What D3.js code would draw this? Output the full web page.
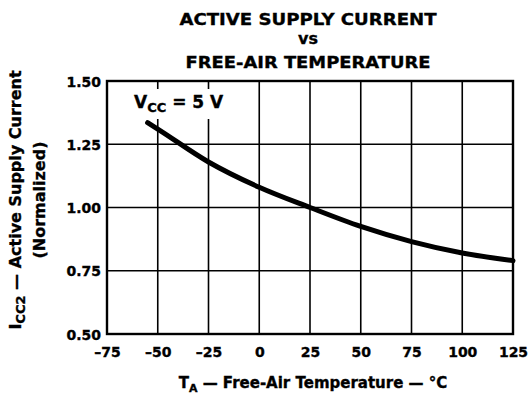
<!DOCTYPE html>
<html>
<head>
<meta charset="utf-8">
<script src="https://cdn.jsdelivr.net/npm/d3@7"></script>
<style>
  html, body { margin: 0; padding: 0; background: #fff; }
  svg { display: block; }
  text { font-family: "DejaVu Sans", sans-serif; font-weight: bold; fill: #000; stroke: #000; stroke-width: 0.35px; }
</style>
</head>
<body>
<svg id="chart" width="530" height="408"></svg>
<script>
// ---- data ----
const temperatures = [-55, -50, -25, 0, 25, 50, 75, 100, 125];
const currentNorm = [1.335, 1.31, 1.18, 1.08, 1.00, 0.925, 0.865, 0.82, 0.79];
const xTicks = [-75, -50, -25, 0, 25, 50, 75, 100, 125];
const yTicks = [0.50, 0.75, 1.00, 1.25, 1.50];
const titleLines = ["ACTIVE SUPPLY CURRENT", "vs", "FREE-AIR TEMPERATURE"];

const svg = d3.select("#chart");
const L = 107, R = 513, T = 81, B = 334;

const x = d3.scaleLinear().domain([-75, 125]).range([L, R]);
const y = d3.scaleLinear().domain([0.5, 1.5]).range([B, T]);

// title
const tY = [25, 44, 68];
const tLen = [257, null, 245];
titleLines.forEach((s, i) => {
  const t = svg.append("text").attr("x", 308).attr("y", tY[i])
    .attr("text-anchor", "middle").style("font-size", "16px").text(s);
  if (tLen[i]) t.attr("textLength", tLen[i]).attr("lengthAdjust", "spacingAndGlyphs");
});

// grid
const grid = svg.append("g");
grid.selectAll("line.vx").data(xTicks.slice(1, -1)).join("line")
  .attr("x1", d => x(d)).attr("x2", d => x(d)).attr("y1", T).attr("y2", B)
  .attr("stroke", "#000").attr("stroke-width", 1.6);
grid.selectAll("line.hy").data(yTicks.slice(1, -1)).join("line")
  .attr("x1", L).attr("x2", R).attr("y1", d => y(d)).attr("y2", d => y(d))
  .attr("stroke", "#000").attr("stroke-width", 1.6);

// label background (breaks grid lines)
svg.append("rect").attr("x", 130).attr("y", 89).attr("width", 102).attr("height", 30).attr("fill", "#fff");

// frame
svg.append("rect").attr("x", L).attr("y", T).attr("width", R - L).attr("height", B - T)
  .attr("fill", "none").attr("stroke", "#000").attr("stroke-width", 2.4);

// x axis labels
const xAxis = d3.axisBottom(x).tickValues(xTicks).tickSize(0).tickPadding(0)
  .tickFormat(d => d < 0 ? "\u2013" + Math.abs(d) : String(d));
const gx = svg.append("g").attr("transform", `translate(0,${B})`).call(xAxis);
gx.select(".domain").remove();
gx.selectAll("text").attr("y", 23).attr("dy", null)
  .style("font-size", "14px").style("font-family", "'DejaVu Sans', sans-serif").style("font-weight", "bold")
  .attr("fill", "#000");

// y axis labels
const yAxis = d3.axisLeft(y).tickValues(yTicks).tickSize(0).tickPadding(0)
  .tickFormat(d3.format(".2f"));
const gy = svg.append("g").attr("transform", `translate(${L - 6},0)`).call(yAxis);
gy.select(".domain").remove();
gy.selectAll("text").attr("x", 0).attr("dy", "0.36em")
  .style("font-size", "14px").style("font-family", "'DejaVu Sans', sans-serif").style("font-weight", "bold")
  .attr("fill", "#000");

// curve
const line = d3.line().x((d, i) => x(temperatures[i])).y(d => y(d)).curve(d3.curveMonotoneX);
svg.append("path").datum(currentNorm).attr("d", line)
  .attr("fill", "none").attr("stroke", "#000").attr("stroke-width", 5).attr("stroke-linecap", "round");

// Vcc label
const vl = svg.append("text").attr("x", 134).attr("y", 108).style("font-size", "17px");
vl.append("tspan").text("V");
vl.append("tspan").attr("dy", 4).style("font-size", "13px").text("CC");
vl.append("tspan").attr("dy", -4).text(" = 5 V");

// x axis title
const xt = svg.append("text").attr("x", 313).attr("y", 388).attr("text-anchor", "middle").style("font-size", "15px");
xt.append("tspan").text("T");
xt.append("tspan").attr("dy", 4).style("font-size", "11px").text("A");
xt.append("tspan").attr("dy", -4).text(" \u2014 Free-Air Temperature \u2014 \u00B0C");

// y axis title
const yt = svg.append("text").attr("transform", "translate(21,200) rotate(-90)")
  .attr("text-anchor", "middle").style("font-size", "16px");
yt.append("tspan").text("I");
yt.append("tspan").attr("dy", 4).style("font-size", "13px").text("CC2");
yt.append("tspan").attr("dy", -4).text(" \u2014 Active Supply Current");
svg.append("text").attr("transform", "translate(45,200) rotate(-90)")
  .attr("text-anchor", "middle").style("font-size", "16px").text("(Normalized)");
</script>
</body>
</html>
